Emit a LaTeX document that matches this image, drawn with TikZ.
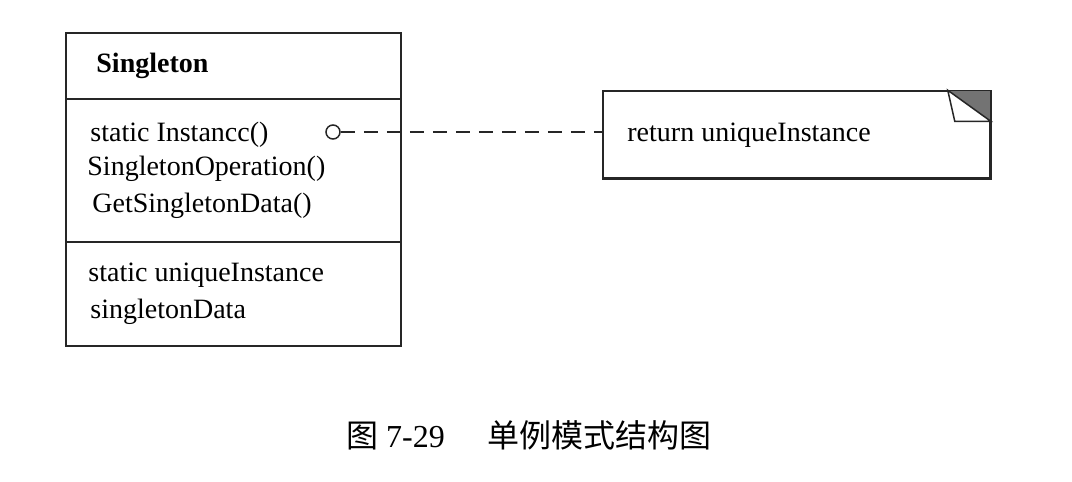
\documentclass[tikz,border=0pt]{standalone}
\usepackage{fontspec}
\setmainfont{Liberation Serif}
\newfontfamily\cjk{Noto Sans CJK SC}
\usetikzlibrary{calc}
\begin{document}
\begin{tikzpicture}[x=0.5pt,y=-0.5pt,
  line/.style={draw=black!85, line width=0.75pt},
  txt/.style={anchor=base west, inner sep=0pt, font=\fontsize{14}{16}\selectfont},
  conn/.style={line, dash pattern=on 7pt off 4.5pt}]
\useasboundingbox (0,0) rectangle (1072,482);
% class box
\node[line, rectangle, minimum width=167.5pt, minimum height=156.5pt, inner sep=0pt] (cls) at (233.5,189.5) {};
\draw[line] (66,99) -- (401,99);
\draw[line] (66,242) -- (401,242);
\node[txt, font=\fontsize{14}{16}\selectfont\bfseries] (name) at (96,72) {Singleton};
\node[txt] (op1) at (90,141) {static Instancc()};
\node[txt] (op2) at (87,175) {SingletonOperation()};
\node[txt] (op3) at (92,212) {GetSingletonData()};
\node[txt] (at1) at (88,281) {static uniqueInstance};
\node[txt] (at2) at (90,318) {singletonData};
% note
\node[line, rectangle, minimum width=193.5pt, minimum height=43.5pt, inner sep=0pt] (note) at (796.5,134.5) {};
\node[txt] (notetxt) at (627,141) {return uniqueInstance};
\fill[black!55] ($(note.north east)+(-43,0)$) -- (note.north east) -- ($(note.north east)+(0,31)$) -- cycle;
\draw[line, fill=white] ($(note.north east)+(-43,0)$) -- ($(note.north east)+(-36,31)$) -- ($(note.north east)+(0,31)$) -- cycle;
\draw[line] (note.north west) rectangle (note.south east);
% connector
\node[line, circle, minimum size=7pt, inner sep=0pt] (circ) at (333,132) {};
\draw[conn] (circ.east) -- (circ.east -| note.west);
% caption
\node[anchor=base, inner sep=0pt, font=\fontsize{16}{19}\selectfont] (cap) at (529,447) {{\cjk 图} 7-29\hspace{21.5pt}{\cjk 单例模式结构图}};
\end{tikzpicture}
\end{document}
